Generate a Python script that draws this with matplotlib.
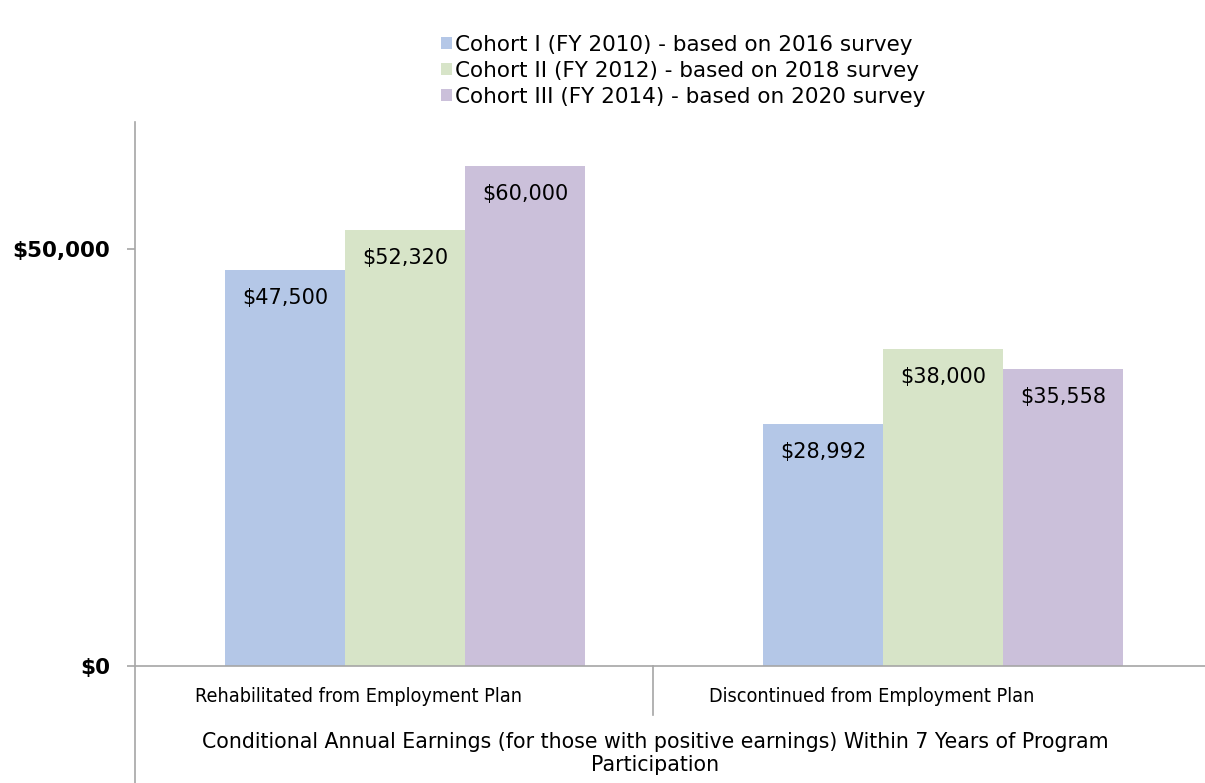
import numpy as np
import matplotlib
matplotlib.use("Agg")
import matplotlib.pyplot as plt
from matplotlib.patches import Patch

categories = ["Rehabilitated from Employment Plan", "Discontinued from Employment Plan"]
series = [
    "Cohort I (FY 2010) - based on 2016 survey",
    "Cohort II (FY 2012) - based on 2018 survey",
    "Cohort III (FY 2014) - based on 2020 survey",
]
values = [
    [47500, 28992],
    [52320, 38000],
    [60000, 35558],
]
colors = ["#b4c7e7", "#d7e4c8", "#cbc0da"]
yticks = [0, 50000]
ytick_labels = ["$0", "$50,000"]
outer_label = ("Conditional Annual Earnings (for those with positive earnings) Within 7 Years of Program\n"
               "Participation")

plt.rcParams["font.family"] = ["DejaVu Sans"]
cond = dict(family="DejaVu Sans", stretch="condensed")

W, H = 1205, 783
fig = plt.figure(figsize=(W / 100, H / 100), dpi=100)
ax = fig.add_axes([135 / W, 0, 1 - 135 / W, 1 - 122 / H])

x = np.arange(len(categories))
bw = 0.223
for i, (name, vals, col) in enumerate(zip(series, values, colors)):
    pos = x + (i - 1) * bw
    bars = ax.bar(pos, vals, width=bw, color=col, label=name, zorder=2)
    for b, v in zip(bars, vals):
        ax.annotate(f"${v:,.0f}", (b.get_x() + b.get_width() / 2, v),
                    xytext=(0, -28), textcoords="offset pixels",
                    ha="center", va="center", fontsize=15)

ax.set_xlim(-0.502, 1.487)
ax.set_ylim(-14030, 65230)
ax.axhline(0, color="#a6a6a6", lw=1.2, zorder=3)

for s in ["top", "right", "bottom"]:
    ax.spines[s].set_visible(False)
ax.spines["left"].set_color("#a6a6a6")
ax.spines["left"].set_linewidth(1.2)

ax.set_xticks([])
ax.set_yticks(yticks)
ax.set_yticklabels(ytick_labels, fontsize=15.5, fontweight="bold")
ax.tick_params(axis="y", length=6, width=1.2, color="#a6a6a6", pad=12)

# category labels under the baseline, with divider
ax.text(-0.087, -3600, categories[0], ha="center", va="center", fontsize=14.2, **cond)
ax.text(0.868, -3600, categories[1], ha="center", va="center", fontsize=14.2, **cond)
ax.plot([0.461, 0.461], [0, -5900], color="#a6a6a6", lw=1.2, clip_on=False)
ax.text(0.465, -10500, outer_label, ha="center", va="center", fontsize=14.8,
        linespacing=1.15)

handles = [Patch(facecolor=c, edgecolor="none") for c in colors]
fig.legend(handles, series, loc="upper left", bbox_to_anchor=(441 / W, 1 - 35 / H),
           frameon=False, fontsize=15.5, handlelength=0.5, handleheight=0.5,
           handletextpad=0.15, labelspacing=0.27, borderpad=0, borderaxespad=0)

fig.savefig("out.png", dpi=100)
